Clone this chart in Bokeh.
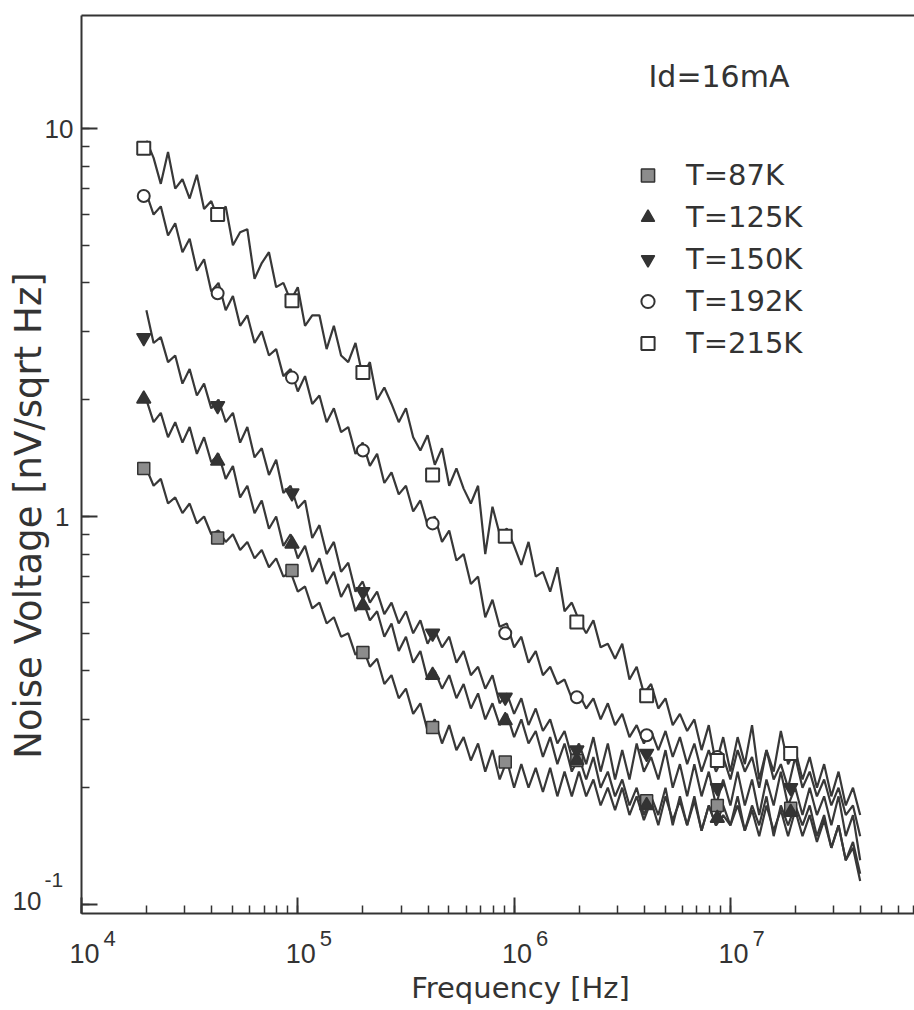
import math
from bokeh.plotting import figure
from bokeh.models import (LogAxis, Range1d, Label, Legend, LegendItem, LogTicker)
from bokeh.embed import file_html
from bokeh.resources import INLINE

# ---------------- data ----------------
freq = [1.995e4, 2.154e4, 2.326e4, 2.512e4, 2.712e4, 2.929e4, 3.162e4, 3.415e4, 3.687e4, 3.981e4,
        4.299e4, 4.642e4, 5.012e4, 5.412e4, 5.843e4, 6.310e4, 6.813e4, 7.356e4, 7.943e4, 8.577e4, 9.261e4,
        1.000e5, 1.080e5, 1.166e5, 1.259e5, 1.359e5, 1.468e5, 1.585e5, 1.711e5, 1.848e5, 1.995e5,
        2.154e5, 2.326e5, 2.512e5, 2.712e5, 2.929e5, 3.162e5, 3.415e5, 3.687e5, 3.981e5, 4.299e5,
        4.642e5, 5.012e5, 5.412e5, 5.843e5, 6.310e5, 6.813e5, 7.356e5, 7.943e5, 8.577e5, 9.261e5,
        1.000e6, 1.080e6, 1.166e6, 1.259e6, 1.359e6, 1.468e6, 1.585e6, 1.711e6, 1.848e6, 1.995e6,
        2.154e6, 2.326e6, 2.512e6, 2.712e6, 2.929e6, 3.162e6, 3.415e6, 3.687e6, 3.981e6, 4.299e6,
        4.642e6, 5.012e6, 5.412e6, 5.843e6, 6.310e6, 6.813e6, 7.356e6, 7.943e6, 8.577e6, 9.261e6,
        1.000e7, 1.080e7, 1.166e7, 1.259e7, 1.359e7, 1.468e7, 1.585e7, 1.711e7, 1.848e7, 1.995e7,
        2.154e7, 2.326e7, 2.512e7, 2.712e7, 2.929e7, 3.162e7, 3.415e7, 3.687e7, 3.981e7]

v_215K = [9.3, 8.4, 7.2, 8.7, 7.0, 7.4, 6.6, 7.6, 6.2, 6.5, 5.8,
          6.3, 5.0, 5.4, 5.5, 4.1, 4.5, 4.8, 3.9, 4.0, 3.6,
          3.9, 3.1, 3.3, 3.3, 2.7, 3.1, 2.6, 2.5, 2.8, 2.3,
          2.5, 2.0, 2.15, 1.95, 1.75, 1.9, 1.6, 1.48, 1.62, 1.36,
          1.5, 1.2, 1.33, 1.18, 1.08, 1.2, 0.8, 1.06, 0.9, 0.93,
          0.84, 0.75, 0.86, 0.7, 0.72, 0.64, 0.74, 0.57, 0.6, 0.54,
          0.5, 0.54, 0.46, 0.47, 0.43, 0.47, 0.38, 0.41, 0.35, 0.37,
          0.32, 0.34, 0.29, 0.31, 0.28, 0.30, 0.25, 0.29, 0.23, 0.27,
          0.22, 0.27, 0.23, 0.29, 0.21, 0.25, 0.22, 0.28, 0.23, 0.25,
          0.21, 0.24, 0.20, 0.23, 0.19, 0.22, 0.18, 0.20, 0.17]

v_192K = [6.8, 6.0, 6.3, 5.3, 5.7, 4.8, 5.2, 4.3, 4.6, 3.8, 4.0,
          3.4, 3.7, 3.1, 3.3, 2.8, 3.0, 2.6, 2.7, 2.3, 2.4,
          2.1, 2.3, 1.95, 2.05, 1.75, 1.9, 1.65, 1.7, 1.45, 1.55,
          1.35, 1.45, 1.22, 1.3, 1.14, 1.2, 1.03, 1.1, 0.95, 1.0,
          0.86, 0.92, 0.77, 0.8, 0.67, 0.70, 0.55, 0.61, 0.52, 0.53,
          0.46, 0.49, 0.42, 0.45, 0.39, 0.41, 0.37, 0.38, 0.34, 0.35,
          0.32, 0.34, 0.30, 0.33, 0.29, 0.31, 0.27, 0.29, 0.26, 0.28,
          0.25, 0.28, 0.24, 0.27, 0.23, 0.26, 0.22, 0.25, 0.22, 0.24,
          0.21, 0.25, 0.22, 0.24, 0.20, 0.25, 0.21, 0.23, 0.20, 0.24,
          0.20, 0.22, 0.19, 0.21, 0.18, 0.20, 0.17, 0.18, 0.15]

v_150K = [3.4, 2.8, 2.9, 2.5, 2.6, 2.2, 2.4, 2.05, 2.2, 1.9, 2.0,
          1.75, 1.85, 1.55, 1.7, 1.42, 1.5, 1.28, 1.4, 1.15, 1.2,
          1.05, 1.1, 0.88, 0.95, 0.8, 0.86, 0.72, 0.76, 0.64, 0.68,
          0.6, 0.64, 0.56, 0.6, 0.53, 0.57, 0.5, 0.54, 0.47, 0.51,
          0.46, 0.49, 0.42, 0.45, 0.39, 0.41, 0.36, 0.39, 0.33, 0.35,
          0.31, 0.34, 0.29, 0.32, 0.28, 0.30, 0.26, 0.28, 0.24, 0.26,
          0.23, 0.27, 0.22, 0.26, 0.21, 0.25, 0.21, 0.26, 0.22, 0.24,
          0.21, 0.25, 0.20, 0.23, 0.19, 0.23, 0.19, 0.22, 0.18, 0.21,
          0.18, 0.22, 0.18, 0.21, 0.17, 0.21, 0.18, 0.22, 0.18, 0.20,
          0.17, 0.20, 0.17, 0.19, 0.16, 0.19, 0.15, 0.17, 0.13]

v_125K = [2.0, 1.75, 1.85, 1.6, 1.75, 1.55, 1.7, 1.45, 1.6, 1.38, 1.45,
          1.25, 1.35, 1.12, 1.2, 1.02, 1.1, 0.93, 1.0, 0.84, 0.9,
          0.78, 0.84, 0.72, 0.78, 0.67, 0.72, 0.62, 0.67, 0.57, 0.61,
          0.54, 0.57, 0.49, 0.53, 0.45, 0.49, 0.42, 0.45, 0.38, 0.40,
          0.36, 0.39, 0.34, 0.37, 0.32, 0.35, 0.30, 0.33, 0.29, 0.31,
          0.27, 0.30, 0.26, 0.28, 0.24, 0.27, 0.23, 0.26, 0.22, 0.24,
          0.21, 0.24, 0.20, 0.22, 0.19, 0.21, 0.18, 0.20, 0.17, 0.19,
          0.17, 0.20, 0.16, 0.19, 0.16, 0.19, 0.155, 0.18, 0.16, 0.17,
          0.16, 0.19, 0.155, 0.18, 0.16, 0.19, 0.15, 0.18, 0.16, 0.18,
          0.16, 0.18, 0.15, 0.17, 0.14, 0.16, 0.13, 0.145, 0.12]

v_87K = [1.33, 1.2, 1.25, 1.08, 1.12, 1.02, 1.08, 0.96, 1.0, 0.9, 0.92,
         0.86, 0.9, 0.82, 0.86, 0.78, 0.82, 0.74, 0.78, 0.7, 0.72,
         0.64, 0.66, 0.58, 0.6, 0.53, 0.55, 0.49, 0.5, 0.44, 0.46,
         0.41, 0.43, 0.37, 0.39, 0.34, 0.36, 0.31, 0.33, 0.28, 0.30,
         0.26, 0.29, 0.25, 0.27, 0.235, 0.26, 0.22, 0.25, 0.21, 0.235,
         0.20, 0.23, 0.20, 0.225, 0.195, 0.225, 0.19, 0.22, 0.19, 0.22,
         0.19, 0.21, 0.18, 0.20, 0.175, 0.20, 0.17, 0.19, 0.165, 0.185,
         0.16, 0.19, 0.165, 0.185, 0.16, 0.185, 0.155, 0.18, 0.16, 0.18,
         0.16, 0.18, 0.155, 0.175, 0.15, 0.18, 0.155, 0.175, 0.15, 0.175,
         0.15, 0.17, 0.145, 0.165, 0.14, 0.16, 0.13, 0.14, 0.115]

marker_freq = [1.94e4, 4.26e4, 9.4e4, 2.0e5, 4.2e5, 9.1e5, 1.95e6, 4.1e6, 8.7e6, 1.9e7]
m_215K = [8.9, 6.0, 3.6, 2.35, 1.28, 0.89, 0.535, 0.345, 0.235, 0.245]
m_192K = [6.7, 3.76, 2.28, 1.48, 0.96, 0.50, 0.342, 0.273, 0.24, 0.245]
m_150K = [2.89, 1.93, 1.15, 0.64, 0.50, 0.342, 0.25, 0.245, 0.20, 0.20]
m_125K = [2.01, 1.39, 0.85, 0.59, 0.39, 0.298, 0.235, 0.18, 0.167, 0.173]
m_87K = [1.33, 0.88, 0.726, 0.446, 0.286, 0.233, 0.235, 0.185, 0.18, 0.177]

labels = ["T=87K", "T=125K", "T=150K", "T=192K", "T=215K"]
x_ticks = [1e4, 1e5, 1e6, 1e7]
x_exps = ["4", "5", "6", "7"]

# ---------------- layout (pixel geometry of the plot box) ----------------
W, H = 914, 1010
X0PX, DECX = 81.0, 216.3      # px of 1e4, px per decade (x)
Y10PX, DECY = 128.0, 388.0    # px of 10, px per decade (y)
XMIN, XMAX = 1e4, 7.1e7       # visible plot box
YMIN, YMAX = 0.0948, 19.5

def fx(px):
    return 10 ** (4 + (px - X0PX) / DECX)

def fy(py):
    return 10 ** (1 - (py - Y10PX) / DECY)

INK = "#333333"
FONT = "Liberation Sans"
WIDE = "DejaVu Sans"

p = figure(width=W, height=H, x_axis_type="log", y_axis_type="log",
           x_range=Range1d(fx(0), fx(W)), y_range=Range1d(fy(H), fy(0)),
           output_backend="svg", toolbar_location=None, min_border=0)
p.grid.visible = False
p.outline_line_color = None
p.background_fill_color = "white"
p.border_fill_color = "white"

xa, ya = p.xaxis[0], p.yaxis[0]
xa.fixed_location = YMIN
xa.bounds = (XMIN, XMAX)
ya.fixed_location = XMIN
ya.bounds = (YMIN, YMAX)
for ax in (xa, ya):
    ax.ticker = LogTicker(num_minor_ticks=10)
    ax.major_tick_in = 16
    ax.major_tick_out = 0
    ax.minor_tick_in = 8
    ax.minor_tick_out = 0
    ax.axis_line_width = 2
    ax.axis_line_color = INK
    ax.major_tick_line_width = 2
    ax.major_tick_line_color = INK
    ax.minor_tick_line_width = 1.5
    ax.minor_tick_line_color = INK
    ax.major_label_text_font_size = "4px"
    ax.major_label_text_alpha = 0
    ax.major_label_standoff = 0

top = LogAxis(fixed_location=YMAX, bounds=(XMIN, XMAX),
              major_tick_in=0, major_tick_out=0, minor_tick_in=0, minor_tick_out=0,
              major_label_text_font_size="4px", major_label_text_alpha=0, major_label_standoff=0,
              axis_line_width=2, axis_line_color=INK)
p.add_layout(top, "above")

series = [(v_87K, m_87K), (v_125K, m_125K), (v_150K, m_150K), (v_192K, m_192K), (v_215K, m_215K)]
for vals, _ in series:
    p.line(freq, vals, line_color="#383838", line_width=2.2)

styles = [
    dict(marker="square", size=12, fill_color="#8c8c8c", line_color=INK, line_width=1.5),
    dict(marker="triangle", size=14, fill_color=INK, line_color=INK, line_width=1.5),
    dict(marker="inverted_triangle", size=14, fill_color=INK, line_color=INK, line_width=1.5),
    dict(marker="circle", size=12, fill_color="white", line_color=INK, line_width=2),
    dict(marker="square", size=13, fill_color="white", line_color=INK, line_width=2),
]
marker_renderers = []
for (_, mv), st in zip(series, styles):
    marker_renderers.append(p.scatter(marker_freq, mv, **st))

legend = Legend(items=[LegendItem(label=l, renderers=[r]) for l, r in zip(labels, marker_renderers)],
                location=(631, H - 361),
                label_text_font_size="29px", label_text_font=WIDE, label_text_color=INK,
                glyph_width=33, glyph_height=36, label_height=36, spacing=6,
                label_standoff=22, padding=10, margin=0,
                border_line_color=None, background_fill_alpha=0)
p.add_layout(legend)

def txt(text, px, py, size, align="left", angle=0.0, font=FONT):
    p.add_layout(Label(x=fx(px), y=fy(py), text=text, text_align=align,
                       text_baseline="middle", angle=angle,
                       text_font=font, text_font_size=size, text_color=INK))

txt("Id=16mA", 648, 76, "30px", font=WIDE)

# x tick labels: "10" with superscript exponent
for t, e in zip(x_ticks, x_exps):
    tpx = X0PX + DECX * (math.log10(t) - 4)
    txt("10", tpx + 3, 953, "27px", align="center")
    txt(e, tpx + 22, 938, "22px")

# y tick labels
txt("10", 73, 128, "26px", align="right")
txt("1", 69, 516, "26px", align="right")
txt("10", 41, 900, "26px", align="right")
txt("-1", 44, 879, "21px")

# axis titles
txt("Frequency [Hz]", 520, 987, "29px", align="center", font=WIDE)
txt("Noise Voltage [nV/sqrt Hz]", 28, 515, "37px", align="center",
    angle=math.pi / 2, font=WIDE)

open("out.html", "w").write(file_html(p, INLINE))
